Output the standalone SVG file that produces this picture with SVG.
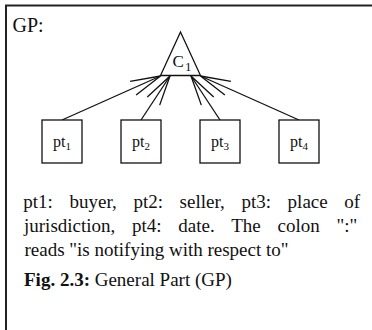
<svg xmlns="http://www.w3.org/2000/svg" width="372" height="330" viewBox="0 0 372 330">
<style>
text{font-family:"Liberation Serif","Times New Roman",serif;fill:#111}
.box{fill:#fff;stroke:#111;stroke-width:1.3}
.conn{fill:none;stroke:#111;stroke-width:1.3}
.lbl{font-size:16px;text-anchor:middle}
.sub{font-size:11px}
.para{font-size:19px}
</style>
<defs>
<marker id="open" markerUnits="userSpaceOnUse" markerWidth="40" markerHeight="20" viewBox="-32 -10 34 20" refX="0" refY="0" orient="auto">
<path d="M-30,-7.4 L0,0 L-30,7.4" fill="none" stroke="#111" stroke-width="1.3"/>
</marker>
</defs>
<rect width="372" height="330" fill="#fff"/>
<path d="M6,330 V5.5 H372" fill="none" stroke="#222" stroke-width="2"/>
<text x="12.5" y="31.5" font-size="20">GP:</text>
<g id="connectors">
<line class="conn" x1="62" y1="120" x2="160.5" y2="76" marker-end="url(#open)"/>
<line class="conn" x1="141" y1="120" x2="170" y2="76" marker-end="url(#open)"/>
<line class="conn" x1="220" y1="120" x2="191" y2="76" marker-end="url(#open)"/>
<line class="conn" x1="299" y1="120" x2="200.5" y2="76" marker-end="url(#open)"/>
</g>
<g id="C1">
<path d="M180.5,32 L160.5,75.5 L200.5,75.5 Z" class="box"/>
<text x="172.5" y="66.5" font-size="17">C</text>
<text x="185" y="70.5" font-size="13">1</text>
</g>
<g id="pt1"><rect class="box" x="42" y="120" width="40" height="43"/><text class="lbl" x="62" y="146.5">pt<tspan class="sub" dy="3">1</tspan></text></g>
<g id="pt2"><rect class="box" x="121" y="120" width="40" height="43"/><text class="lbl" x="141" y="146.5">pt<tspan class="sub" dy="3">2</tspan></text></g>
<g id="pt3"><rect class="box" x="200" y="120" width="40" height="43"/><text class="lbl" x="220" y="146.5">pt<tspan class="sub" dy="3">3</tspan></text></g>
<g id="pt4"><rect class="box" x="279" y="120" width="40" height="43"/><text class="lbl" x="299" y="146.5">pt<tspan class="sub" dy="3">4</tspan></text></g>
<text class="para" x="23.3" y="208" word-spacing="11.9">pt1: buyer, pt2: seller, pt3: place of</text>
<text class="para" x="24" y="232" word-spacing="12">jurisdiction, pt4: date. The colon ":"</text>
<text class="para" x="24.5" y="256">reads "is notifying with respect to"</text>
<text x="24" y="286" font-size="19"><tspan font-weight="bold">Fig. 2.3:</tspan> General Part (GP)</text>
</svg>
